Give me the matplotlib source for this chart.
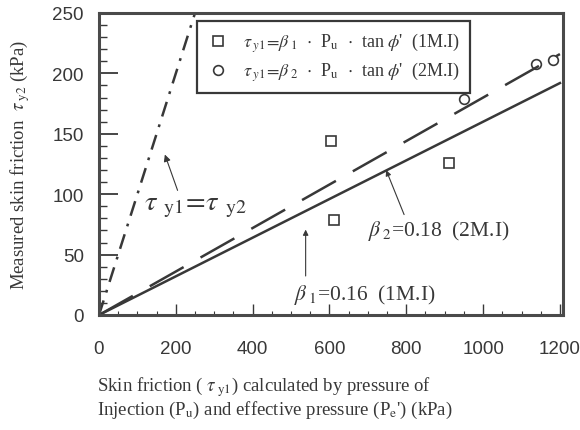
import matplotlib
matplotlib.use('Agg')
import matplotlib.pyplot as plt
import numpy as np

# Data
sq_x = [603, 910, 611]          # 1M.I measurements
sq_y = [144, 126, 79]
ci_x = [949, 1139, 1183]        # 2M.I measurements
ci_y = [179, 208, 211]
beta1 = 0.16
beta2 = 0.18
line_x = [0, 1200]
equal_x = [0, 250]

INK = '#383838'
plt.rcParams['mathtext.fontset'] = 'stix'
plt.rcParams['lines.scale_dashes'] = False
SERIF = 'Liberation Serif'
SANS = 'Liberation Sans'

fig = plt.figure(figsize=(5.8, 4.31), dpi=100)
ax = fig.add_axes([99/580, 1 - 316/431, 464/580, 302/431])

# lines
ax.plot(line_x, [beta1 * v for v in line_x], color=INK, lw=1.8)
ax.plot(line_x, [beta2 * v for v in line_x], color=INK, lw=1.8, dashes=(28, 14))
ax.plot(equal_x, equal_x, color=INK, lw=1.8, dashes=(11, 6, 2, 6))

# markers
ax.plot(sq_x, sq_y, 's', ms=7, mfc='none', mec=INK, mew=1.2,
        label=r"$\tau_{\;y1}\!=\!\beta_{\;1}$  $\cdot$  P$_{\rm u}$  $\cdot$  tan $\phi$'  (1M.I)")
ax.plot(ci_x, ci_y, 'o', ms=7, mfc='none', mec=INK, mew=1.2,
        label=r"$\tau_{\;y1}\!=\!\beta_{\;2}$  $\cdot$  P$_{\rm u}$  $\cdot$  tan $\phi$'  (2M.I)")

leg = ax.legend(loc='upper left', bbox_to_anchor=(0.211, 0.974), borderaxespad=0,
                fancybox=False, framealpha=1, edgecolor=INK, handletextpad=0.8,
                borderpad=0.55, handlelength=1.2, labelspacing=0.3,
                prop={'family': SERIF, 'size': 13})
leg.get_frame().set_linewidth(1.6)
for t in leg.get_texts():
    t.set_color(INK)

# annotations
ax.annotate('', xy=(169, 135), xytext=(207, 101),
            arrowprops=dict(arrowstyle='-|>', color=INK, lw=0.8, mutation_scale=10))
ax.text(252, 90, r'$\tau_{\;\;\rm y1}\!=\!\tau_{\;\;\rm y2}$', fontsize=20.5,
        color=INK, ha='center', va='center', family=SERIF)

ax.annotate('', xy=(745, 122), xytext=(797, 81),
            arrowprops=dict(arrowstyle='-|>', color=INK, lw=0.8, mutation_scale=8))
ax.text(700, 70, r'$\beta_{\;2}$=0.18  (2M.I)', fontsize=15.5, color=INK,
        ha='left', va='center', family=SERIF)

ax.annotate('', xy=(538, 73), xytext=(538, 30),
            arrowprops=dict(arrowstyle='-|>', color=INK, lw=0.8, mutation_scale=8))
ax.text(508, 17, r'$\beta_{\;1}$=0.16  (1M.I)', fontsize=15.5, color=INK,
        ha='left', va='center', family=SERIF)

# axes styling
ax.set_xlim(0, 1208)
ax.set_ylim(0, 250)
ax.set_xticks([0, 200, 400, 600, 800, 1000, 1200])
ax.set_xticks(np.arange(0, 1201, 50), minor=True)
ax.set_yticks([0, 50, 100, 150, 200, 250])
ax.set_yticks(np.arange(0, 251, 10), minor=True)
ax.tick_params(axis='both', which='both', direction='in', color=INK)
ax.tick_params(axis='y', which='major', length=14, width=1.3, pad=11)
ax.tick_params(axis='y', which='minor', length=6, width=1.0)
ax.tick_params(axis='x', which='major', length=8, width=1.0, pad=18)
ax.tick_params(axis='x', which='minor', length=3, width=0.8)
for lab in ax.get_xticklabels() + ax.get_yticklabels():
    lab.set_fontfamily(SANS)
    lab.set_fontsize(13.5)
    lab.set_color(INK)
for sp in ax.spines.values():
    sp.set_color('#4a4a4a')
    sp.set_linewidth(2.2)

fig.text(20/580, 1 - 165/431, r'Measured skin friction  $\tau_{\;\rm y2}$ (kPa)',
         rotation=90, ha='center', va='center', fontsize=13.5, color=INK, family=SERIF)
fig.text(97/580, 1 - 387/431, r'Skin friction ( $\tau_{\;\rm y1}$) calculated by pressure of',
         ha='left', va='center', fontsize=13.5, color=INK, family=SERIF)
fig.text(97/580, 1 - 410/431, r"Injection (P$_{\rm u}$) and effective pressure (P$_{\rm e}$') (kPa)",
         ha='left', va='center', fontsize=13.5, color=INK, family=SERIF)

fig.savefig('out.png', dpi=100)
